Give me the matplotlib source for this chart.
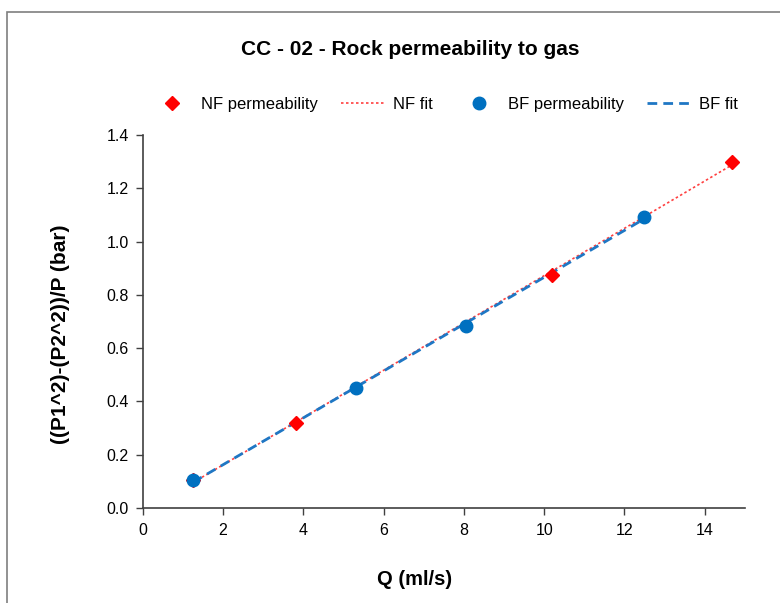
import matplotlib
matplotlib.use('Agg')
import matplotlib.pyplot as plt
import matplotlib.patches as patches
import numpy as np

# (first NF point sits under the first BF circle)
nf_q = [1.26, 3.83, 10.2, 14.68]
nf_p = [0.105, 0.32, 0.875, 1.299]
bf_q = [1.26, 5.31, 8.06, 12.48]
bf_p = [0.105, 0.449, 0.684, 1.093]

x_ticks = [0, 2, 4, 6, 8, 10, 12, 14]
y_ticks = [0.0, 0.2, 0.4, 0.6, 0.8, 1.0, 1.2, 1.4]

plt.rcParams['font.family'] = ['Liberation Sans', 'DejaVu Sans']

fig = plt.figure(figsize=(7.8, 6.03), dpi=100)
ax = fig.add_axes([0.183, 0.1575, 0.772, 0.6185])

# outer chart border (runs off right and bottom edges)
fig.patches.append(patches.Rectangle((0.009, -0.2), 1.3, 1.18, transform=fig.transFigure,
                                     fill=False, edgecolor='#7f7f7f', linewidth=1.2))

k1, b1 = np.polyfit(nf_q, nf_p, 1)
k2, b2 = np.polyfit(bf_q, bf_p, 1)
xf1 = np.array([min(nf_q), max(nf_q)])
xf2 = np.array([min(bf_q), max(bf_q)])

ax.plot(xf1, k1 * xf1 + b1, linestyle=(0, (1.5, 1.5)), color='#ff4040', linewidth=1.2,
        label='NF fit', zorder=2)
ax.plot(xf2, k2 * xf2 + b2, linestyle=(0, (3.5, 2.2)), color='#1f77c4', linewidth=2.0,
        label='BF fit', zorder=3)
ax.plot(nf_q, nf_p, linestyle='none', marker='D', markersize=7, color='#ff0000',
        label='NF permeability', zorder=4)
ax.plot(bf_q, bf_p, linestyle='none', marker='o', markersize=9, color='#0070c0',
        label='BF permeability', zorder=5)

ax.set_xlim(0, 15)
ax.set_ylim(0, 1.4)
ax.set_xticks(x_ticks)
ax.set_yticks(y_ticks)
ax.set_yticklabels(['%.1f' % v for v in y_ticks])
ax.tick_params(labelsize=11.5, length=5, width=1, color='#404040', direction='out')
ax.tick_params(axis='x', pad=6)
ax.tick_params(axis='y', pad=5)
for s in ['top', 'right']:
    ax.spines[s].set_visible(False)
for s in ['left', 'bottom']:
    ax.spines[s].set_color('#404040')
    ax.spines[s].set_linewidth(1.2)

ax.set_xlabel('Q (ml/s)', fontsize=14.5, fontweight='bold')
ax.xaxis.set_label_coords(0.452, -0.167)
ax.set_ylabel('((P1^2)-(P2^2))/P (bar)', fontsize=15, fontweight='bold')
ax.yaxis.set_label_coords(-0.121, 0.466)
fig.text(0.526, 0.918, 'CC - 02 - Rock permeability to gas', ha='center', va='center',
         fontsize=15, fontweight='bold')

h, l = ax.get_legend_handles_labels()
order = [2, 0, 3, 1]
fig.legend([h[i] for i in order], [l[i] for i in order], loc='center',
           bbox_to_anchor=(0.5686, 0.8275), ncol=4, frameon=False, fontsize=12,
           handlelength=2.7, columnspacing=1.4, handletextpad=0.4)

fig.savefig('out.png', dpi=100)
